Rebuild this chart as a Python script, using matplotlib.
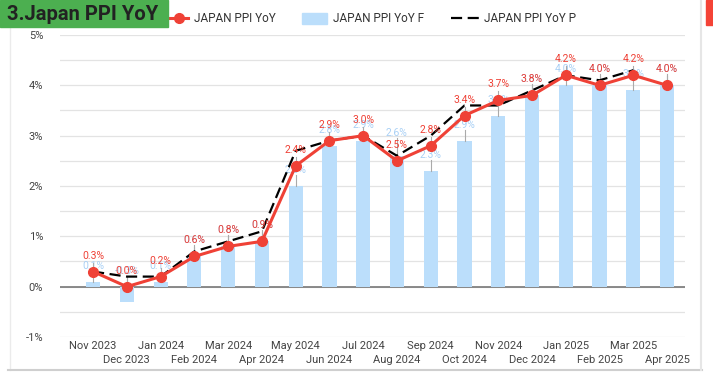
import matplotlib
matplotlib.use("Agg")
import matplotlib.pyplot as plt
import numpy as np
from matplotlib.lines import Line2D
from matplotlib.patches import Rectangle

plt.rcParams['font.family'] = ['Roboto', 'DejaVu Sans']

months = ["Nov 2023", "Dec 2023", "Jan 2024", "Feb 2024", "Mar 2024", "Apr 2024",
          "May 2024", "Jun 2024", "Jul 2024", "Aug 2024", "Sep 2024", "Oct 2024",
          "Nov 2024", "Dec 2024", "Jan 2025", "Feb 2025", "Mar 2025", "Apr 2025"]
actual = [0.3, 0.0, 0.2, 0.6, 0.8, 0.9, 2.4, 2.9, 3.0, 2.5, 2.8, 3.4,
          3.7, 3.8, 4.2, 4.0, 4.2, 4.0]
forecast = [0.1, -0.3, 0.1, 0.6, 0.8, 0.9, 2.0, 2.8, 2.9, 2.6, 2.3, 2.9,
            3.4, 3.8, 4.0, 4.0, 3.9, 4.0]
previous = [0.3, 0.2, 0.2, 0.7, 0.9, 1.1, 2.7, 2.9, 3.0, 2.6, 3.0, 3.6,
            3.6, 3.9, 4.2, 4.1, 4.3, np.nan]

W, H = 713, 378
fig = plt.figure(figsize=(W / 100, H / 100), dpi=100)
fig.patch.set_facecolor('white')

def fx(px):
    return px / W

def fy(py):
    return 1 - py / H

ax = fig.add_axes([fx(60), fy(337), fx(685) - fx(60), fy(35) - fy(337)])
x = np.arange(len(months))

RED = '#EF4136'
BLUE = '#BBDEFB'
BLUE_TXT = '#A9D0F5'

# grid
for v in np.arange(-1, 5.01, 0.5):
    ax.axhline(v, color='#E3E3E3', lw=0.9, zorder=0)
ax.axhline(0, color='#777777', lw=1.2, zorder=1)

ax.bar(x, forecast, width=0.42, color=BLUE, zorder=2)
ax.plot(x, previous, color='black', lw=1.6, dashes=(5, 2.5), zorder=4)
ax.plot(x, actual, color=RED, lw=2.2, marker='o', ms=7, zorder=5)

px_per_unit = 302 / 6.0
off = 16 / px_per_unit
lead = 9 / px_per_unit

# bar labels
for i, v in enumerate(forecast):
    ly = v + off if v >= 0 else 0 + off
    if i == 9:
        ly = actual[i] + off + 12 / px_per_unit
    ax.plot([i, i], [max(v, 0), ly - 5 / px_per_unit], color='#AAAAAA', lw=0.8, zorder=3)
    ax.text(i, ly, f"{v:.1f}%", color=BLUE_TXT, fontsize=7.5, ha='center', va='center', zorder=3)

# actual labels
for i, v in enumerate(actual):
    ax.plot([i, i], [v, v + lead], color='#AAAAAA', lw=0.8, zorder=3)
    ax.text(i, v + off, f"{v:.1f}%", color=RED, fontsize=7.5, ha='center', va='center', zorder=6)

ax.set_xlim(-0.98, 17.53)
ax.set_ylim(-1, 5)
ax.set_yticks(range(-1, 6))
ax.set_yticklabels([f"{t}%" for t in range(-1, 6)], fontsize=8, color='#444444')
ax.tick_params(axis='y', length=0, pad=12)
ax.set_xticks(x)
ax.set_xticklabels([m if i % 2 == 0 else "\n" + m for i, m in enumerate(months)],
                   fontsize=8, color='#444444', linespacing=1.5)
ax.tick_params(axis='x', length=0, pad=3)
for s in ax.spines.values():
    s.set_visible(False)

# title box
fig.add_artist(Rectangle((0, fy(27)), fx(168), 27 / H, color='#4CAF50', transform=fig.transFigure, zorder=10))
fig.text(fx(7), fy(14), "3.Japan PPI YoY", fontsize=14.5, fontweight='bold', color='#222222',
         va='center', ha='left', zorder=11)

# legend
ly = fy(18)
fig.add_artist(Line2D([fx(170), fx(188)], [ly, ly], color=RED, lw=2.2, transform=fig.transFigure))
fig.add_artist(Line2D([fx(179)], [ly], color=RED, marker='o', ms=7, transform=fig.transFigure))
fig.text(fx(194), ly, "JAPAN PPI YoY", fontsize=8.5, color='#333333', va='center')
fig.add_artist(Rectangle((fx(302), fy(24)), fx(25), 11 / H, color=BLUE, transform=fig.transFigure))
fig.text(fx(333), ly, "JAPAN PPI YoY F", fontsize=8.5, color='#333333', va='center')
fig.add_artist(Line2D([fx(451), fx(480)], [ly, ly], color='black', lw=1.6, dashes=(5, 2.5),
                      transform=fig.transFigure))
fig.text(fx(484), ly, "JAPAN PPI YoY P", fontsize=8.5, color='#333333', va='center')

# card edges
fig.add_artist(Line2D([fx(10), fx(10)], [fy(27), fy(370)], color='#EBEBEB', lw=1, transform=fig.transFigure))
fig.add_artist(Line2D([fx(8), fx(702)], [fy(370), fy(370)], color='#CFCFCF', lw=1.5, transform=fig.transFigure))
fig.add_artist(Line2D([fx(701), fx(701)], [fy(0), fy(370)], color='#E6E6E6', lw=1.5, transform=fig.transFigure))
fig.add_artist(Rectangle((fx(706), fy(25)), fx(7), 25 / H, color='#F44336', transform=fig.transFigure))

fig.savefig("out.png", dpi=100)
